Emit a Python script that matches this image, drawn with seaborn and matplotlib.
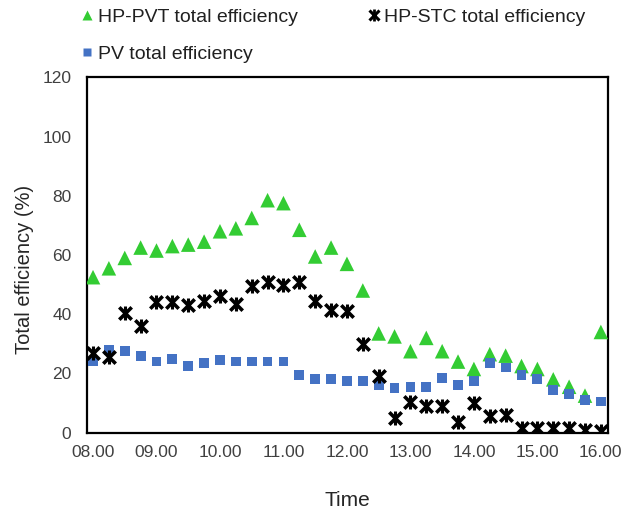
import numpy as np
import pandas as pd
import matplotlib
matplotlib.use("Agg")
import matplotlib.pyplot as plt
from matplotlib.lines import Line2D
from matplotlib.ticker import FixedLocator
import seaborn as sns

# ---- data (15-min steps from 08:00 to 16:00) ----
hp_pvt = [52.5, 55.5, 59, 62.5, 61.5, 63, 63.5, 64.5, 68, 69, 72.5, 78.5, 77.5,
          68.5, 59.5, 62.5, 57, 48, 33.5, 32.5, 27.5, 32, 27.5, 24, 21.5, 26.5,
          26, 22.5, 21.5, 18, 15.5, 12.5, 34]
hp_stc = [27, 25.5, 40.5, 36, 44, 44, 43, 44.5, 46, 43.5, 49.5, 51, 50, 51,
          44.5, 41.5, 41, 30, 19, 5, 10.5, 9, 9, 3.5, 10, 5.5, 6, 1.5, 1.5,
          1.5, 1.5, 1, 0.5]
pv = [24, 28, 27.5, 26, 24, 25, 22.5, 23.5, 24.5, 24, 24, 24, 24, 19.5, 18,
      18, 17.5, 17.5, 16, 15, 15.5, 15.5, 18.5, 16, 17.5, 23.5, 22, 19.5, 18,
      14.5, 13, 11, 10.5]
tick_labels = ["08.00", "09.00", "10.00", "11.00", "12.00", "13.00", "14.00",
               "15.00", "16.00"]

idx = np.arange(len(hp_pvt))
df = pd.DataFrame({"t": idx, "pvt": hp_pvt, "stc": hp_stc, "pv": pv})

sns.set_style("white")
plt.rcParams["font.family"] = ["Liberation Sans", "DejaVu Sans"]

fig = plt.figure(figsize=(6.34, 5.12), dpi=100)
ax = fig.add_axes([0.1367, 0.155, 0.8218, 0.694])

green = "#33CC33"
blue = "#4472C4"

sns.scatterplot(data=df, x="t", y="pvt", marker="^", s=110, color=green,
                edgecolor="none", ax=ax, zorder=3)
sns.scatterplot(data=df, x="t", y="pv", marker="s", s=50, color=blue,
                edgecolor="none", ax=ax, zorder=3)
# Excel-style star: an X with a vertical bar through it
sns.scatterplot(data=df, x="t", y="stc", marker="x", s=80,
                color="black", linewidth=2.6, ax=ax, zorder=4)
sns.scatterplot(data=df, x="t", y="stc", marker="|", s=110,
                color="black", linewidth=2.2, ax=ax, zorder=4)

ax.set_xlim(-0.4, 32.43)
ax.set_ylim(0, 120)
ax.set_yticks(np.arange(0, 121, 20))
ax.set_xticks(np.arange(0, 33, 4))
ax.set_xticklabels(tick_labels)
ax.xaxis.set_minor_locator(FixedLocator(np.arange(4.5, 32, 5)))
ax.tick_params(axis="x", which="major", length=0, pad=9, labelsize=12.5,
               labelcolor="#404040")
ax.tick_params(axis="x", which="minor", direction="in", length=4, width=1.2,
               color="black")
ax.tick_params(axis="y", which="major", direction="in", length=4, width=1.2,
               labelsize=12.5, labelcolor="#404040", pad=11)
for sp in ax.spines.values():
    sp.set_visible(True)
    sp.set_color("black")
    sp.set_linewidth(1.6)

ax.set_xlabel("Time", fontsize=15, labelpad=22)
ax.set_ylabel("Total efficiency (%)", fontsize=14.5)
ax.yaxis.set_label_coords(-0.102, 0.46)

star_handle = (
    Line2D([], [], marker="x", linestyle="none", color="black",
           markersize=7, markeredgewidth=2.2),
    Line2D([], [], marker="|", linestyle="none", color="black",
           markersize=8, markeredgewidth=2),
)
handles = [
    Line2D([], [], marker="^", linestyle="none", color=green, markersize=7,
           markeredgecolor="none"),
    Line2D([], [], marker="s", linestyle="none", color=blue, markersize=5.5,
           markeredgecolor="none"),
    star_handle,
]
labels = ["HP-PVT total efficiency", "PV total efficiency",
          "HP-STC total efficiency"]
fig.legend(handles, labels, ncol=2, loc="upper left",
           bbox_to_anchor=(0.101, 1.018), frameon=False, fontsize=14,
           handlelength=0.6, handletextpad=0.25, columnspacing=3.6,
           labelspacing=1.0, labelcolor="#202020")

fig.savefig("out.png", dpi=100)
